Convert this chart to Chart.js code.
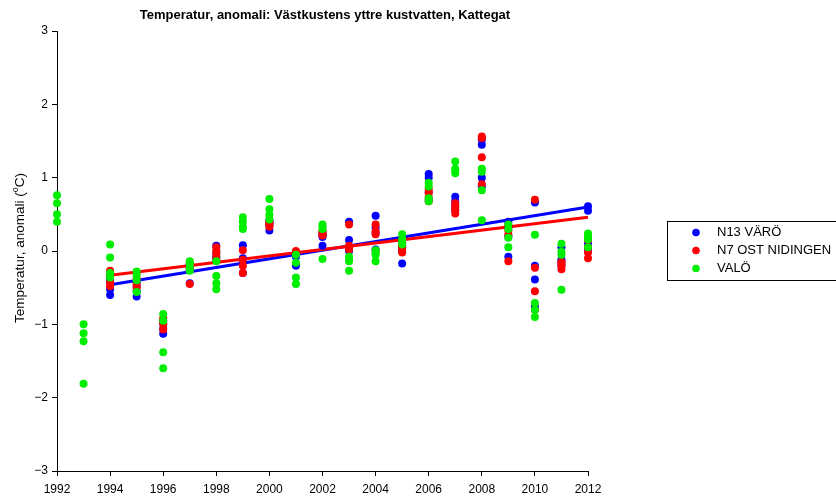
<!DOCTYPE html>
<html>
<head>
<meta charset="utf-8">
<script src="https://cdn.jsdelivr.net/npm/chart.js@4.4.0/dist/chart.umd.min.js"></script>
<style>
  body { margin: 0; background: #fff; }
  canvas { display: block; }
</style>
</head>
<body>
<canvas id="myChart" width="836" height="497"></canvas>
<script>
// data: several values per year and station
const years = [1992, 1993, 1994, 1995, 1996, 1997, 1998, 1999, 2000, 2001, 2002,
  2003, 2004, 2005, 2006, 2007, 2008, 2009, 2010, 2011, 2012];

const n13Values = [
  [], [],
  [-0.42, -0.52, -0.60, -0.38],
  [-0.42, -0.55, -0.62, -0.48],
  [-0.98, -1.06, -1.13, -0.95],
  [-0.44, -0.18, -0.22, -0.26],
  [0.07, -0.02, -0.08, -0.12],
  [0.08, -0.10, -0.30, -0.15],
  [0.28, 0.35, 0.40, 0.42],
  [-0.02, -0.08, -0.20, -0.05],
  [0.19, 0.07, 0.22, 0.25],
  [0.40, 0.15, 0.05, 0.00],
  [0.48, 0.32, 0.25, 0.02],
  [-0.17, 0.12, 0.05, 0.00],
  [1.05, 1.00, 0.80, 0.70],
  [0.74, 0.68, 0.62, 0.55],
  [1.45, 1.00, 1.52, 0.88],
  [-0.08, 0.32, 0.40, 0.20],
  [0.66, -0.39, -0.76, -0.20],
  [-0.14, -0.12, 0.05, -0.20],
  [0.61, 0.55, 0.10, 0.00]
];

const n7Values = [
  [], [],
  [-0.27, -0.33, -0.43, -0.48],
  [-0.38, -0.45, -0.50, -0.30],
  [-0.92, -1.07, -1.00, -0.95],
  [-0.45, -0.16, -0.20, -0.25],
  [0.05, 0.00, -0.04, -0.10],
  [0.01, -0.20, -0.30, -0.12],
  [0.33, 0.36, 0.40, 0.38],
  [0.00, -0.04, -0.03, -0.02],
  [0.23, 0.27, 0.25, 0.21],
  [0.36, 0.05, 0.02, 0.07],
  [0.36, 0.23, 0.27, 0.00],
  [0.02, -0.02, 0.05, 0.08],
  [0.80, 0.68, 0.85, 0.74],
  [0.60, 0.51, 0.57, 0.65],
  [1.56, 1.54, 1.28, 0.91],
  [-0.14, 0.35, 0.28, 0.22],
  [0.70, -0.23, -0.55, -0.80],
  [-0.17, -0.25, -0.20, -0.15],
  [-0.02, -0.10, 0.05, 0.15]
];

const valoValues = [
  [0.76, 0.65, 0.50, 0.40],
  [-1.00, -1.12, -1.23, -1.81],
  [0.09, -0.09, -0.30, -0.36],
  [-0.28, -0.33, -0.40, -0.56],
  [-0.86, -1.38, -1.60, -0.95],
  [-0.14, -0.18, -0.23, -0.27],
  [-0.14, -0.34, -0.44, -0.52],
  [0.46, 0.40, 0.33, 0.30],
  [0.71, 0.57, 0.49, 0.43],
  [-0.16, -0.36, -0.45, -0.05],
  [0.36, 0.30, -0.11, 0.33],
  [-0.08, -0.14, -0.27, -0.11],
  [0.01, -0.05, -0.14, -0.03],
  [0.23, 0.16, 0.09, 0.12],
  [0.93, 0.88, 0.68, 0.72],
  [1.22, 1.10, 1.06, 1.12],
  [1.12, 1.08, 0.83, 0.42],
  [0.36, 0.30, 0.18, 0.05],
  [0.22, -0.71, -0.80, -0.90],
  [0.10, -0.01, -0.05, -0.53],
  [0.24, 0.16, 0.05, 0.20]
];

// trend lines (start and end)
const trendYears = [1994, 2012];
const n13Trend = [-0.46, 0.60];
const n7Trend = [-0.33, 0.46];

const seriesNames = ["N13 VÄRÖ", "N7 OST NIDINGEN", "VALÖ"];
const xTicks = [1992, 1994, 1996, 1998, 2000, 2002, 2004, 2006, 2008, 2010, 2012];
const yTicks = [-3, -2, -1, 0, 1, 2, 3];
const yTickLabels = ["\u22123", "\u22122", "\u22121", "0", "1", "2", "3"];

const titleText = "Temperatur, anomali: Västkustens yttre kustvatten, Kattegat";

const BLUE = "#0000ff";
const RED = "#ff0000";
const GREEN = "#00ee00";
const FONT = "'Liberation Sans', Arial, sans-serif";

function toPoints(vals) {
  const pts = [];
  vals.forEach((list, i) => {
    list.forEach(v => pts.push({ x: years[i], y: v }));
  });
  return pts;
}

function trendPoints(vals) {
  return trendYears.map((yr, i) => ({ x: yr, y: vals[i] }));
}

// title, y axis title and legend box
const extras = {
  id: "extras",
  afterDraw(chart) {
    const ctx = chart.ctx;
    ctx.save();
    ctx.fillStyle = "#000";

    // title
    ctx.font = "bold 13px " + FONT;
    ctx.textAlign = "center";
    ctx.textBaseline = "middle";
    ctx.fillText(titleText, 325, 15);

    // y axis title with superscript o
    ctx.translate(20, 248);
    ctx.rotate(-Math.PI / 2);
    const main = "Temperatur, anomali (";
    const tail = "C)";
    ctx.font = "13.5px " + FONT;
    const w1 = ctx.measureText(main).width;
    const w3 = ctx.measureText(tail).width;
    ctx.font = "9px " + FONT;
    const w2 = ctx.measureText("o").width;
    let x = -(w1 + w2 + w3) / 2;
    ctx.textAlign = "left";
    ctx.textBaseline = "middle";
    ctx.font = "13.5px " + FONT;
    ctx.fillText(main, x, 0);
    x += w1;
    ctx.font = "9px " + FONT;
    ctx.fillText("o", x, -4.5);
    x += w2;
    ctx.font = "13.5px " + FONT;
    ctx.fillText(tail, x, 0);
    ctx.setTransform(1, 0, 0, 1, 0, 0);

    // legend
    ctx.strokeStyle = "#000";
    ctx.lineWidth = 1;
    ctx.strokeRect(667.5, 221.5, 220, 59);
    const colors = [BLUE, RED, GREEN];
    ctx.font = "13px " + FONT;
    ctx.textAlign = "left";
    ctx.textBaseline = "middle";
    seriesNames.forEach((name, i) => {
      const yy = 232.5 + i * 18;
      ctx.fillStyle = colors[i];
      ctx.beginPath();
      ctx.arc(696, yy, 3.8, 0, Math.PI * 2);
      ctx.fill();
      ctx.fillStyle = "#000";
      ctx.fillText(name, 717, yy);
    });
    ctx.restore();
  }
};

const ctx = document.getElementById("myChart").getContext("2d");

new Chart(ctx, {
  type: "scatter",
  data: {
    datasets: [
      {
        label: seriesNames[2],
        data: toPoints(valoValues),
        backgroundColor: GREEN,
        pointRadius: 4,
        pointBorderWidth: 0,
        clip: false,
        order: 1
      },
      {
        label: seriesNames[1],
        data: toPoints(n7Values),
        backgroundColor: RED,
        pointRadius: 4,
        pointBorderWidth: 0,
        clip: false,
        order: 2
      },
      {
        label: seriesNames[0],
        data: toPoints(n13Values),
        backgroundColor: BLUE,
        pointRadius: 4,
        pointBorderWidth: 0,
        clip: false,
        order: 3
      },
      {
        type: "line",
        label: "N7 trend",
        data: trendPoints(n7Trend),
        borderColor: RED,
        borderWidth: 3,
        pointRadius: 0,
        fill: false,
        clip: false,
        order: 4
      },
      {
        type: "line",
        label: "N13 trend",
        data: trendPoints(n13Trend),
        borderColor: BLUE,
        borderWidth: 3,
        pointRadius: 0,
        fill: false,
        clip: false,
        order: 5
      }
    ]
  },
  options: {
    responsive: false,
    animation: false,
    layout: { padding: { top: 31, right: 248, left: 0, bottom: 0 } },
    plugins: {
      legend: { display: false },
      tooltip: { enabled: false }
    },
    scales: {
      x: {
        type: "linear",
        min: xTicks[0],
        max: xTicks[xTicks.length - 1],
        afterBuildTicks: s => { s.ticks = xTicks.map(v => ({ value: v })); },
        afterFit: s => { s.height = 26; },
        ticks: {
          color: "#000",
          font: { family: FONT, size: 12 },
          padding: 6,
          maxRotation: 0,
          autoSkip: false,
          callback: v => String(v)
        },
        grid: { drawOnChartArea: false, drawTicks: true, tickLength: 5, color: "#000" },
        border: { color: "#000", width: 1 }
      },
      y: {
        min: yTicks[0],
        max: yTicks[yTicks.length - 1],
        afterBuildTicks: s => { s.ticks = yTicks.map(v => ({ value: v })); },
        afterFit: s => { s.width = 57; },
        ticks: {
          color: "#000",
          font: { family: FONT, size: 12 },
          padding: 4,
          autoSkip: false,
          callback: v => yTickLabels[yTicks.indexOf(v)]
        },
        grid: { drawOnChartArea: false, drawTicks: true, tickLength: 5, color: "#000" },
        border: { color: "#000", width: 1 }
      }
    }
  },
  plugins: [extras]
});
</script>
</body>
</html>
